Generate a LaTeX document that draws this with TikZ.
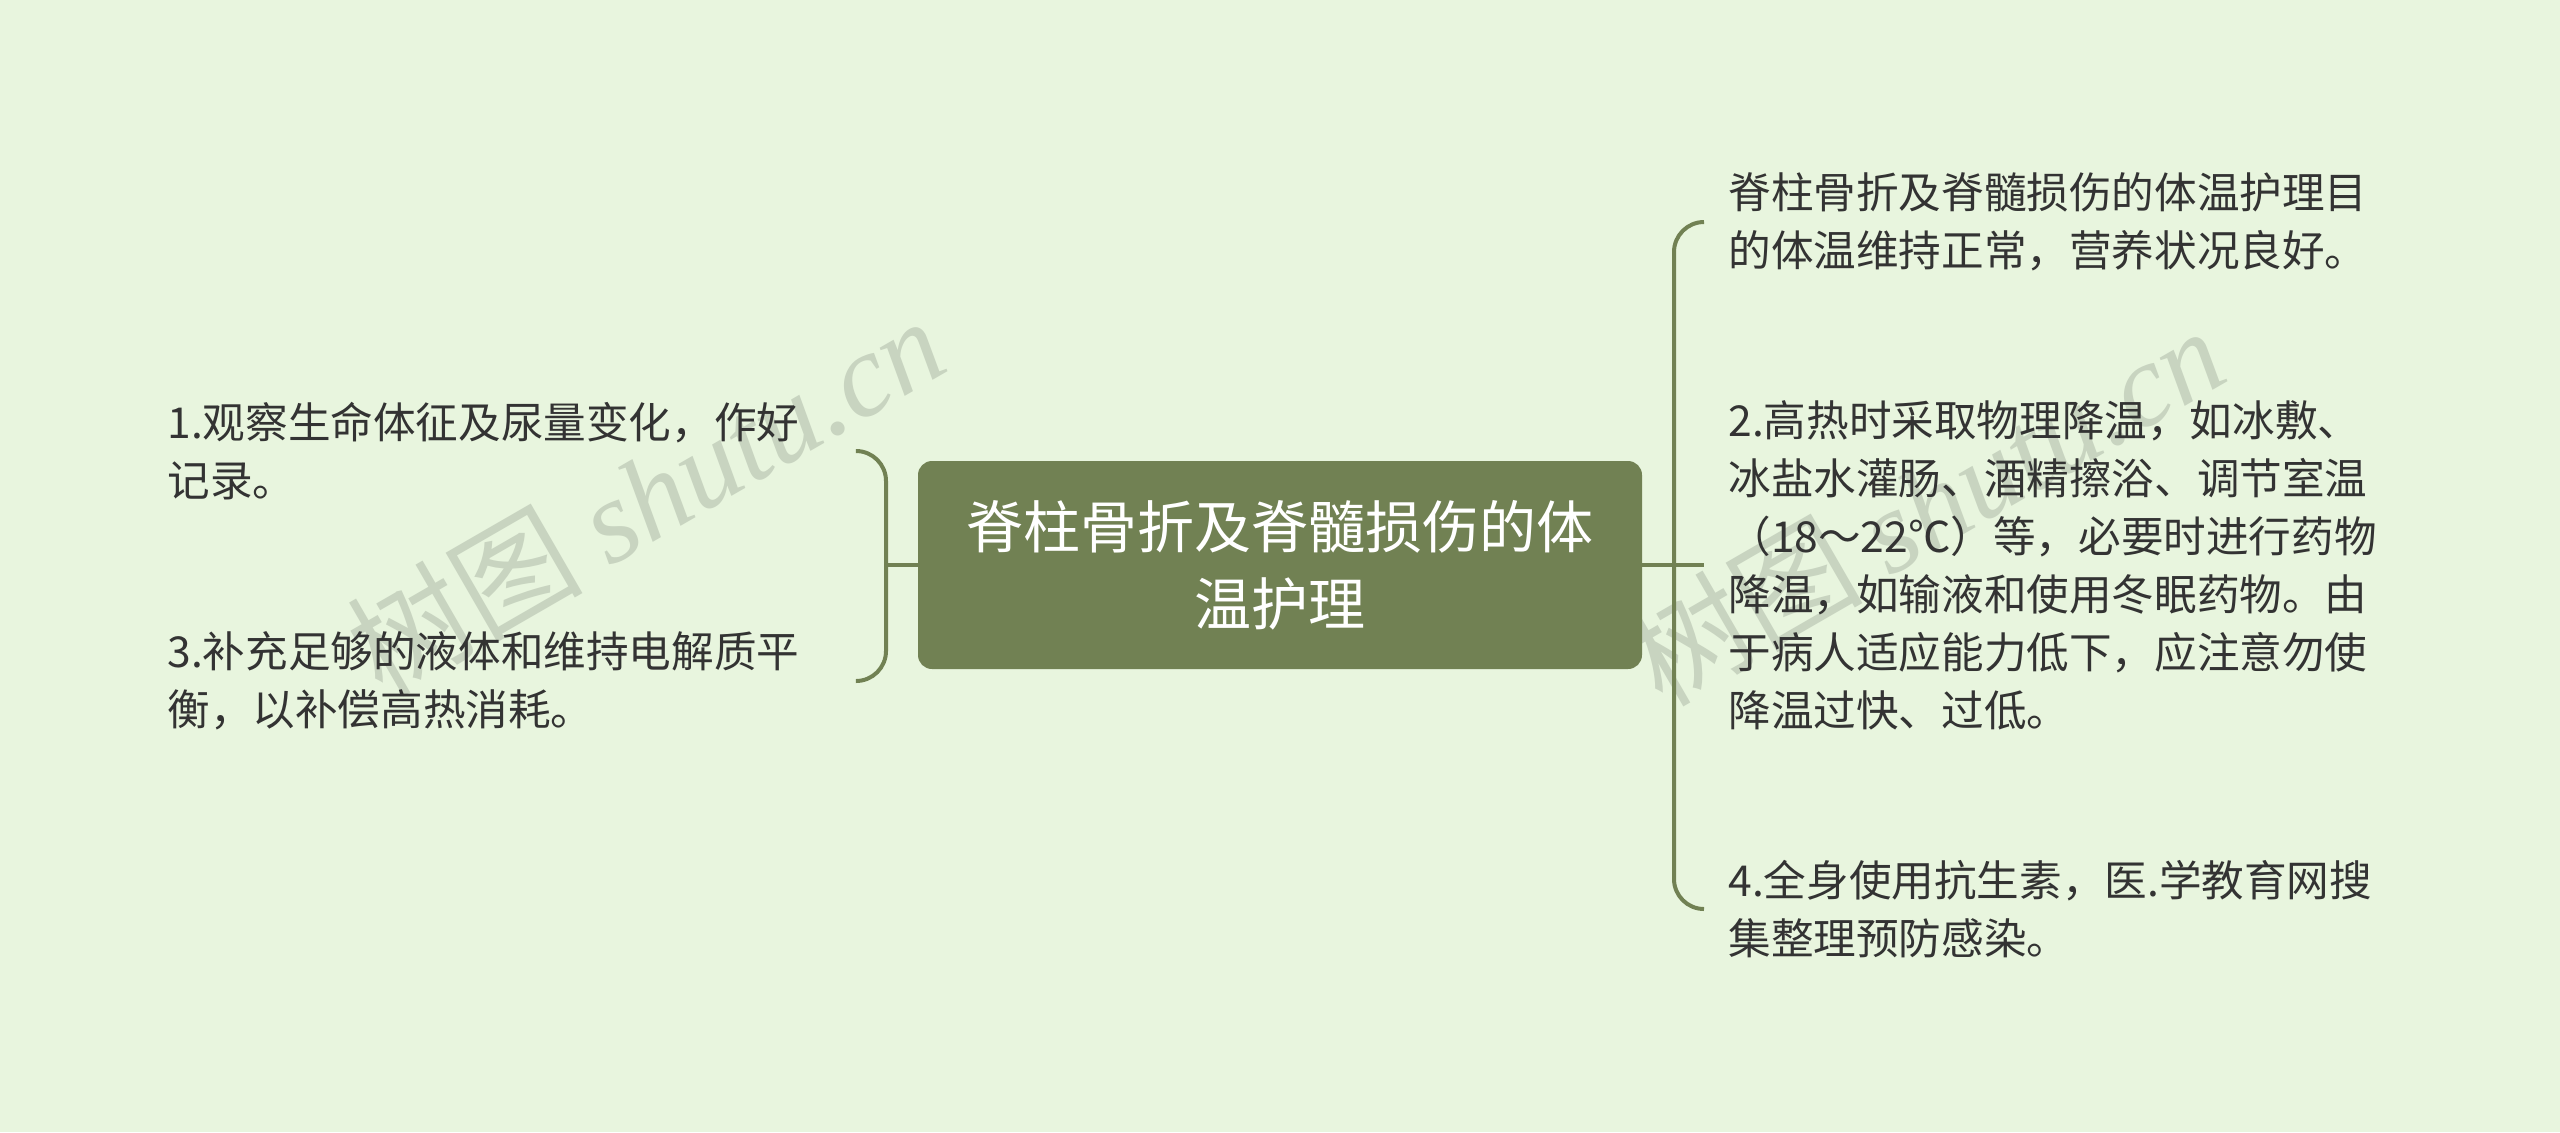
\documentclass[tikz,border=0pt]{standalone}
\usepackage{fontspec}
\setmainfont{Noto Sans CJK SC}
\newfontfamily\wmlat{Liberation Serif}
\definecolor{bg}{HTML}{E8F5DE}
\definecolor{olive}{HTML}{718153}
\definecolor{txt}{HTML}{333333}
\definecolor{wm}{HTML}{C8D4C0}
\begin{document}
\begin{tikzpicture}[x=0.5pt,y=-0.5pt,
  conn/.style={draw=olive,line width=2pt},
  root/.style={fill=olive,rounded corners=7pt,minimum width=362pt,minimum height=104pt,inner sep=0pt,text=white,align=center,font=\fontsize{28.5pt}{38.5pt}\selectfont},
  leaf/.style={inner ysep=0pt,text=txt,align=left,font=\fontsize{21.3pt}{29pt}\selectfont},
  lleaf/.style={leaf,anchor=west,inner xsep=0pt,text width=344pt},
  rleaf/.style={leaf,anchor=west,inner xsep=12pt,text width=340pt},
  wmark/.style={text=wm,rotate=30,inner sep=0pt,font=\fontsize{59pt}{60pt}\selectfont}
]
\fill[bg] (0,0) rectangle (2560,1132);
\node[wmark] (wm1) at (645,495) {树图 {\wmlat\itshape shutu.cn}};
\node[wmark] (wm2) at (1925,505) {树图 {\wmlat\itshape shutu.cn}};

\node[root] (root) at (1280,565) {脊柱骨折及脊髓损伤的体\\温护理};

\node[lleaf] (l1) at (167,451) {1.观察生命体征及尿量变化，作好\\记录。};
\node[lleaf] (l2) at (167,681) {3.补充足够的液体和维持电解质平\\衡，以补偿高热消耗。};

\node[rleaf] (r1) at (1704,222) {脊柱骨折及脊髓损伤的体温护理目\\的体温维持正常，营养状况良好。};
\node[rleaf] (r2) at (1704,565) {2.高热时采取物理降温，如冰敷、\\冰盐水灌肠、酒精擦浴、调节室温\\（18～22℃）等，必要时进行药物\\降温，如输液和使用冬眠药物。由\\于病人适应能力低下，应注意勿使\\降温过快、过低。};
\node[rleaf] (r3) at (1704,909) {4.全身使用抗生素，医.学教育网搜\\集整理预防感染。};

\coordinate (lhub) at (886,565);
\coordinate (rhub) at (1674,565);
\draw[conn] (root.west) -- (lhub);
\draw[conn,rounded corners=15pt] (l1.east) -| (lhub) |- (l2.east);
\draw[conn] (root.east) -- (r2.west);
\draw[conn,rounded corners=15pt] (r1.west) -| (rhub) |- (r3.west);
\end{tikzpicture}
\end{document}
